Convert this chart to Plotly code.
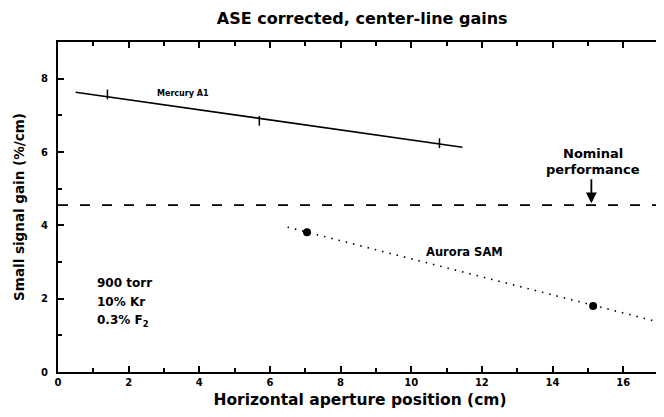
import plotly.graph_objects as go

# ---- data ----
mercury_x = [1.4, 5.7, 10.8]
mercury_y = [7.57, 6.85, 6.24]
mercury_fit_x = [0.5, 11.45]
mercury_fit_y = [7.63, 6.13]

aurora_x = [7.05, 15.15]
aurora_y = [3.81, 1.80]
aurora_fit_x = [6.5, 17.1]
aurora_fit_y = [3.95, 1.34]

nominal_gain = 4.55
x_ticks = [0, 2, 4, 6, 8, 10, 12, 14, 16]
y_ticks = [0, 2, 4, 6, 8]
note_lines = ["900 torr", "10% Kr", "0.3% F<sub>2</sub>"]
note_y = [2.43, 1.91, 1.40]

FONT = "DejaVu Sans"

fig = go.Figure()

fig.add_trace(go.Scatter(x=mercury_fit_x, y=mercury_fit_y, mode="lines",
                         line=dict(color="black", width=1.6), showlegend=False))
fig.add_trace(go.Scatter(x=mercury_x, y=mercury_y, mode="markers",
                         marker=dict(symbol="line-ns", size=7, color="black",
                                     line=dict(color="black", width=1.5)),
                         showlegend=False))
fig.add_trace(go.Scatter(x=aurora_fit_x, y=aurora_fit_y, mode="lines",
                         line=dict(color="black", width=1.6, dash="1.5px,6px"),
                         showlegend=False))
fig.add_trace(go.Scatter(x=aurora_x, y=aurora_y, mode="markers",
                         marker=dict(symbol="circle", size=8, color="black"),
                         showlegend=False))
fig.add_trace(go.Scatter(x=[0, 17.1], y=[nominal_gain, nominal_gain], mode="lines",
                         line=dict(color="black", width=1.6, dash="10px,12px"),
                         showlegend=False))

fig.add_annotation(x=3.55, y=7.6, text="<b>Mercury A1</b>", showarrow=False,
                   font=dict(family=FONT, size=8, color="black"))
fig.add_annotation(x=11.5, y=3.27, text="<b>Aurora SAM</b>", showarrow=False,
                   font=dict(family=FONT, size=11.5, color="black"))
for txt, yy in zip(note_lines, note_y):
    fig.add_annotation(x=1.05, y=yy, xanchor="left", yanchor="middle",
                       text=f"<b>{txt}</b>", showarrow=False,
                       font=dict(family=FONT, size=12, color="black"))
fig.add_annotation(x=15.1, y=nominal_gain + 0.05, ax=15.1, ay=nominal_gain + 0.75,
                   xref="x", yref="y", axref="x", ayref="y",
                   text="", showarrow=True, arrowhead=2, arrowsize=1.2,
                   arrowwidth=1.8, arrowcolor="black")
fig.add_annotation(x=15.15, y=5.97, text="<b>Nominal</b>", showarrow=False,
                   font=dict(family=FONT, size=13, color="black"))
fig.add_annotation(x=15.15, y=5.52, text="<b>performance</b>", showarrow=False,
                   font=dict(family=FONT, size=13, color="black"))

# page body has an 8px margin, so the figure is sized to end at the window edge
fig.update_layout(
    width=656, height=409,
    margin=dict(l=50, r=2, t=34, b=45),
    paper_bgcolor="white", plot_bgcolor="white",
    title=dict(text="<b>ASE corrected, center-line gains</b>", x=0.54, xanchor="center",
               y=0.974, yanchor="middle",
               font=dict(family=FONT, size=16, color="black")),
    font=dict(family=FONT, color="black"),
    xaxis=dict(range=[0, 17.1], tickvals=x_ticks, ticktext=[f"<b>{v}</b>" for v in x_ticks],
               ticks="inside", ticklen=6, tickwidth=1.5, tickcolor="black",
               minor=dict(ticks="inside", dtick=1, ticklen=4, tickcolor="black"),
               showline=True, linecolor="black", linewidth=2, mirror="ticks",
               showgrid=False, zeroline=False, automargin=False,
               tickfont=dict(family=FONT, size=10, color="black"),
               title=dict(text="<b>Horizontal aperture position (cm)</b>", standoff=7,
                          font=dict(family=FONT, size=15.5, color="black"))),
    yaxis=dict(range=[0, 9], tickvals=y_ticks, ticktext=[f"<b>{v}</b>" for v in y_ticks],
               ticks="inside", ticklen=6, tickwidth=1.5, tickcolor="black",
               ticklabelstandoff=6,
               minor=dict(ticks="inside", dtick=1, ticklen=4, tickcolor="black"),
               showline=True, linecolor="black", linewidth=2, mirror="ticks",
               showgrid=False, zeroline=False, automargin=False,
               tickfont=dict(family=FONT, size=10, color="black"),
               title=dict(text="<b>Small signal gain (%/cm)</b>", standoff=13,
                          font=dict(family=FONT, size=13.5, color="black"))),
)

fig.write_html("out.html")
